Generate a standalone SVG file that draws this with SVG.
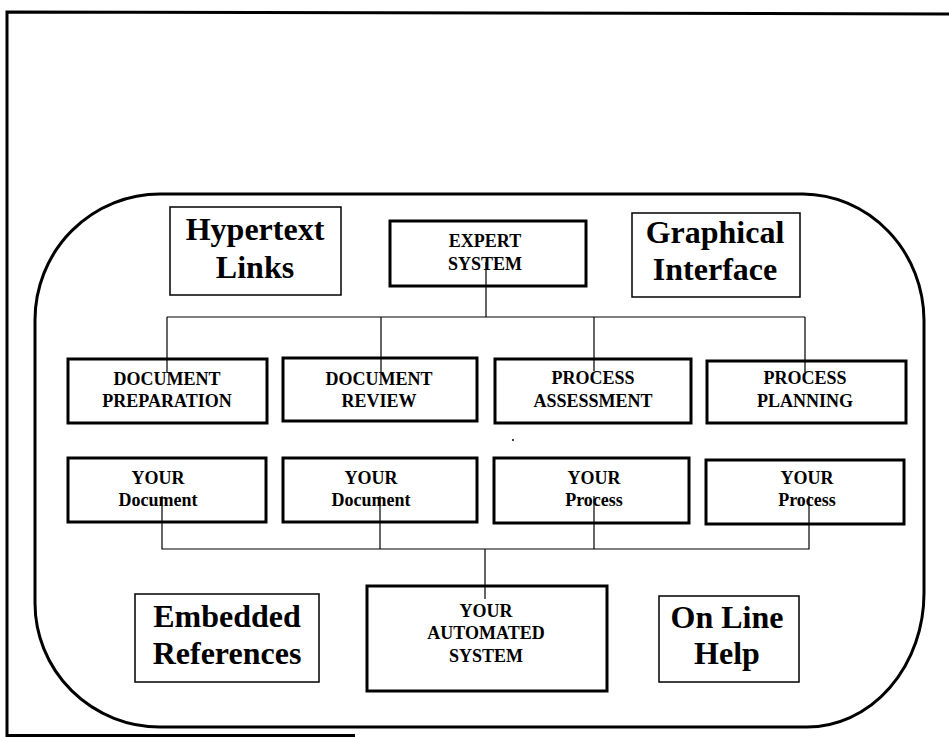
<svg xmlns="http://www.w3.org/2000/svg" width="949" height="737" viewBox="0 0 949 737">
  <style>
    .frame { fill: none; stroke: #000; stroke-width: 3; }
    .module { fill: #fff; stroke: #000; stroke-width: 3; }
    .feature { fill: #fff; stroke: #000; stroke-width: 1.5; }
    .wire { fill: none; stroke: #000; stroke-width: 1.2; }
    .big { font-family: "Liberation Serif", "Times New Roman", serif; font-weight: bold; font-size: 32px; fill: #000; text-anchor: middle; }
    .lbl { font-family: "Liberation Serif", "Times New Roman", serif; font-weight: bold; font-size: 18px; fill: #000; text-anchor: middle; }
  </style>

  <rect width="949" height="737" fill="#fff"/>

  <!-- page border (open on the right) -->
  <path class="frame" d="M355,735.5 L7,735.5 L7,12 L949,14"/>

  <!-- rounded enclosure -->
  <path class="frame" d="M160,194 L803,194 A122,127 0 0 1 924,320 L924,593 A117,134 0 0 1 807,727 L160,727 A125,124 0 0 1 35,603 L35,320 A125,126 0 0 1 160,194 Z"/>

  <!-- boxes first, connectors drawn over them -->
  <g id="hypertext-links">
    <rect class="feature" x="170" y="207" width="171" height="88"/>
    <text class="big" x="255" y="240">Hypertext</text>
    <text class="big" x="255" y="278">Links</text>
  </g>

  <g id="expert-system">
    <rect class="module" x="390" y="221" width="196" height="65"/>
    <text class="lbl" x="485" y="247">EXPERT</text>
    <text class="lbl" x="485" y="270">SYSTEM</text>
  </g>

  <g id="graphical-interface">
    <rect class="feature" x="632" y="213" width="168" height="84"/>
    <text class="big" x="715" y="243">Graphical</text>
    <text class="big" x="715" y="280">Interface</text>
  </g>

  <g id="document-preparation">
    <rect class="module" x="68" y="359" width="199" height="64"/>
    <text class="lbl" x="167" y="385">DOCUMENT</text>
    <text class="lbl" x="167" y="407">PREPARATION</text>
  </g>

  <g id="document-review">
    <rect class="module" x="283" y="358" width="194" height="63"/>
    <text class="lbl" x="379" y="385">DOCUMENT</text>
    <text class="lbl" x="379" y="407">REVIEW</text>
  </g>

  <g id="process-assessment">
    <rect class="module" x="495" y="359" width="196" height="64"/>
    <text class="lbl" x="593" y="384">PROCESS</text>
    <text class="lbl" x="593" y="407">ASSESSMENT</text>
  </g>

  <g id="process-planning">
    <rect class="module" x="707" y="361" width="199" height="62"/>
    <text class="lbl" x="805" y="384">PROCESS</text>
    <text class="lbl" x="805" y="407">PLANNING</text>
  </g>

  <g id="your-document-1">
    <rect class="module" x="68" y="458" width="198" height="64"/>
    <text class="lbl" x="158" y="484">YOUR</text>
    <text class="lbl" x="158" y="506">Document</text>
  </g>

  <g id="your-document-2">
    <rect class="module" x="283" y="458" width="194" height="64"/>
    <text class="lbl" x="371" y="484">YOUR</text>
    <text class="lbl" x="371" y="506">Document</text>
  </g>

  <g id="your-process-1">
    <rect class="module" x="494" y="458" width="195" height="65"/>
    <text class="lbl" x="594" y="484">YOUR</text>
    <text class="lbl" x="594" y="506">Process</text>
  </g>

  <g id="your-process-2">
    <rect class="module" x="706" y="460" width="198" height="64"/>
    <text class="lbl" x="807" y="484">YOUR</text>
    <text class="lbl" x="807" y="506">Process</text>
  </g>

  <g id="embedded-references">
    <rect class="feature" x="135" y="594" width="184" height="88"/>
    <text class="big" x="227" y="627">Embedded</text>
    <text class="big" x="227" y="664">References</text>
  </g>

  <g id="your-automated-system">
    <rect class="module" x="367" y="586" width="240" height="105"/>
    <text class="lbl" x="486" y="617">YOUR</text>
    <text class="lbl" x="486" y="639">AUTOMATED</text>
    <text class="lbl" x="486" y="662">SYSTEM</text>
  </g>

  <g id="on-line-help">
    <rect class="feature" x="659" y="596" width="140" height="86"/>
    <text class="big" x="727" y="628">On Line</text>
    <text class="big" x="727" y="664">Help</text>
  </g>

  <g id="connectors">
    <!-- expert system fan-out -->
    <path class="wire" d="M486,262 L486,317 M167,317 L805,317 M167,317 L167,373 M381,317 L381,372 M594,317 L594,371 M805,317 L805,372"/>
    <!-- collection into the automated system -->
    <path class="wire" d="M162,496 L162,549 L809,549 L809,496 M380,496 L380,549 M594,496 L594,549 M485,549 L485,599"/>
  </g>

  <circle cx="513" cy="440" r="1" fill="#000"/>
</svg>
